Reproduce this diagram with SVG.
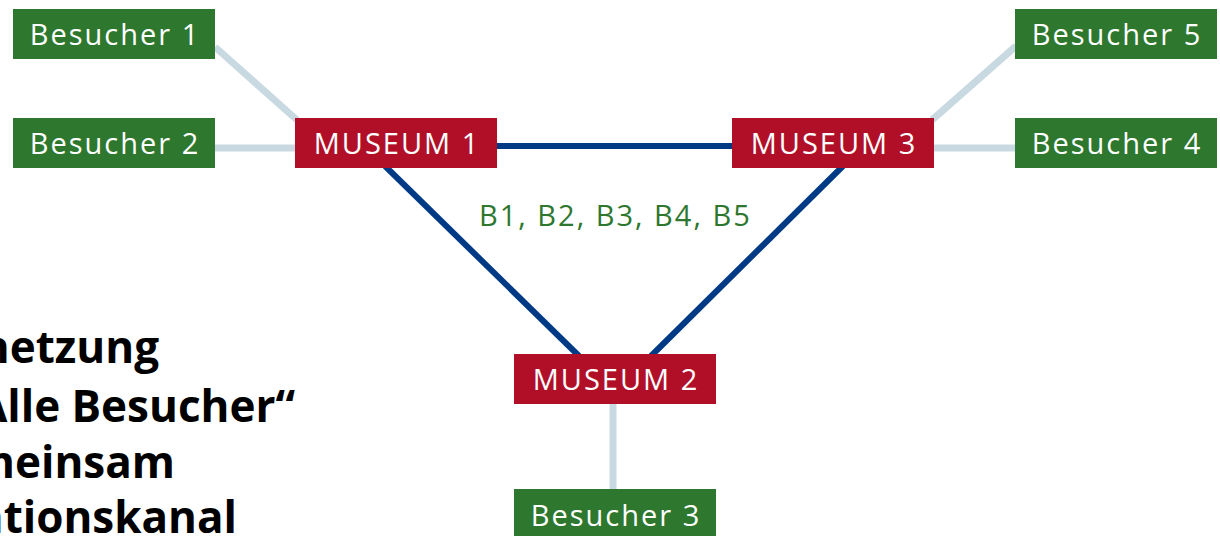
<svg xmlns="http://www.w3.org/2000/svg" width="1220" height="536" viewBox="0 0 1220 536">
<style>
.g{fill:#2e772e}
.r{fill:#b10f28}
.t{fill:#ffffff;font-family:"Open Sans","Noto Sans",sans-serif;font-size:29px;letter-spacing:2px;text-anchor:middle}
.lt{stroke:#c9d9e2;stroke-width:7;fill:none}
.bl{stroke:#003a85;stroke-width:6;fill:none}
.lab{fill:#2e772e;font-family:"Open Sans","Noto Sans",sans-serif;font-size:29px;letter-spacing:2px}
.big{fill:#000;font-family:"Open Sans","Noto Sans",sans-serif;font-size:44px;font-weight:bold;text-anchor:end}
</style>
<rect width="1220" height="536" fill="#ffffff"/>
<g id="connectors">
<line class="lt" x1="215" y1="47" x2="297" y2="120"/>
<line class="lt" x1="215" y1="148" x2="296" y2="148"/>
<line class="lt" x1="932" y1="120" x2="1016" y2="46"/>
<line class="lt" x1="933" y1="148" x2="1016" y2="148"/>
<line class="lt" x1="613" y1="404" x2="613" y2="490"/>
<line class="bl" x1="497" y1="146" x2="733" y2="146"/>
<line class="bl" x1="385" y1="166" x2="579" y2="356"/>
<line class="bl" x1="843" y1="166" x2="651" y2="356"/>
</g>
<g id="besucher1"><rect class="g" x="13" y="9" width="202" height="50"/><text class="t" x="115" y="45">Besucher 1</text></g>
<g id="besucher2"><rect class="g" x="13" y="118" width="202" height="50"/><text class="t" x="115" y="154">Besucher 2</text></g>
<g id="besucher5"><rect class="g" x="1015" y="9" width="202" height="50"/><text class="t" x="1117" y="45">Besucher 5</text></g>
<g id="besucher4"><rect class="g" x="1015" y="118" width="202" height="50"/><text class="t" x="1117" y="154">Besucher 4</text></g>
<g id="besucher3"><rect class="g" x="514" y="489" width="202" height="50"/><text class="t" x="616" y="526">Besucher 3</text></g>
<g id="museum1"><rect class="r" x="295" y="118" width="202" height="50"/><text class="t" x="397" y="154">MUSEUM 1</text></g>
<g id="museum3"><rect class="r" x="732" y="118" width="202" height="50"/><text class="t" x="834" y="154">MUSEUM 3</text></g>
<g id="museum2"><rect class="r" x="514" y="354" width="202" height="50"/><text class="t" x="616" y="390">MUSEUM 2</text></g>
<text class="lab" x="479" y="226">B1, B2, B3, B4, B5</text>
<g id="title">
<text class="big" x="159" y="363">netzung</text>
<text class="big" x="295" y="422">Alle Besucher“</text>
<text class="big" x="175" y="478">meinsam</text>
<text class="big" x="237" y="533">ationskanal</text>
</g>
</svg>
